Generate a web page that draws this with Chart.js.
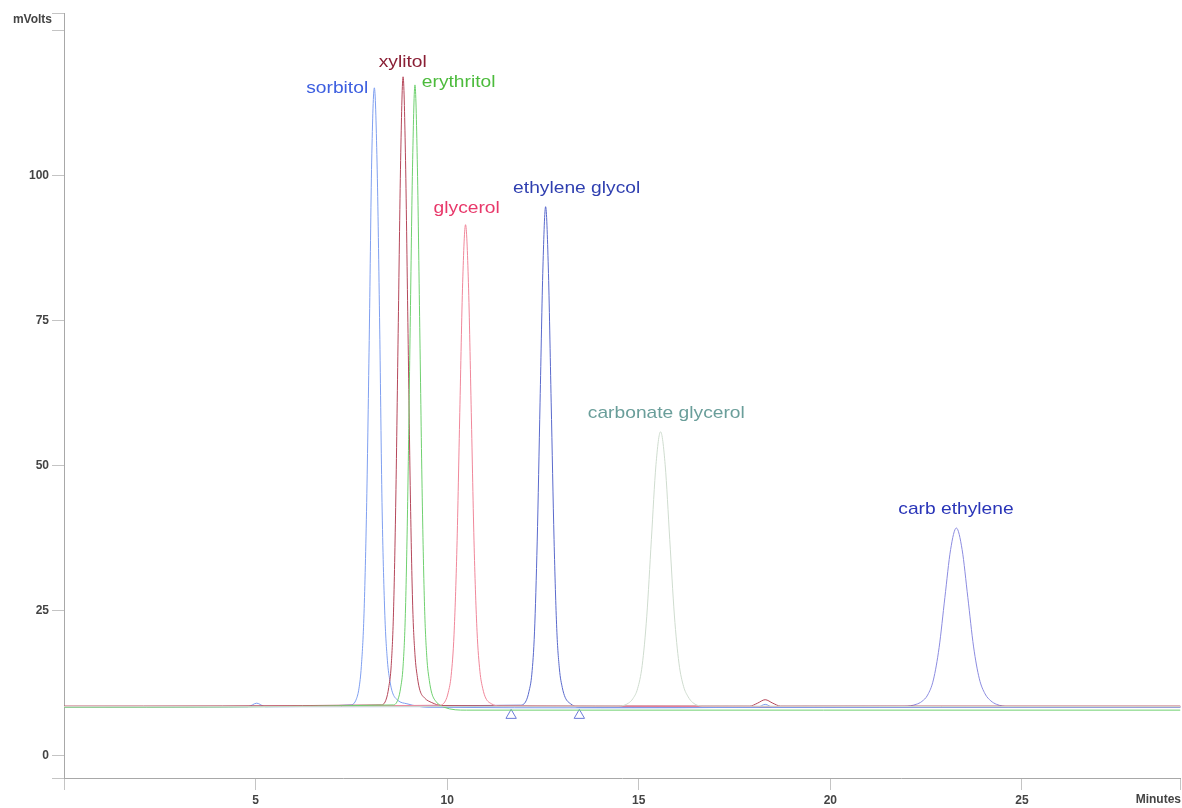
<!DOCTYPE html>
<html>
<head>
<meta charset="utf-8">
<script src="https://cdn.jsdelivr.net/npm/chart.js@4.4.1/dist/chart.umd.min.js"></script>
<style>
  html, body { margin: 0; padding: 0; background: #fff; overflow: hidden; }
  canvas { display: block; }
</style>
</head>
<body>
<canvas id="chart" width="1182" height="808"></canvas>
<script>
// axis ranges and ticks
const xMin = 0, xMax = 29.14
const yMin = -3.8, yMax = 128.1
const xTicks = [5, 10, 15, 20, 25]
const yTicks = [0, 25, 50, 75, 100]

// traces, minutes / mVolts
const sorbitolMin = [0, 4.8, 5.03, 5.25, 7.49, 7.63, 7.70, 7.76, 7.83, 7.90, 7.97, 8.03, 8.10, 8.17, 8.24, 8.30, 8.37, 8.44, 8.51, 8.57, 8.71, 8.95, 9.5, 14, 18.1, 18.3, 18.5, 29.14]
const sorbitolMv = [8.5, 8.5, 9.1, 8.5, 8.8, 9.8, 11.7, 15.4, 24.5, 43.7, 73.6, 102.4, 115.2, 102.4, 73.6, 43.7, 25, 16.5, 12.8, 11, 9.6, 9.0, 8.4, 8.3, 8.4, 8.9, 8.4, 8.4]

const xylitolMin = [0, 8.29, 8.41, 8.475, 8.54, 8.60, 8.66, 8.725, 8.79, 8.85, 8.91, 8.975, 9.04, 9.10, 9.16, 9.225, 9.29, 9.41, 9.6, 9.85, 17.9, 18.1, 18.3, 18.5, 18.7, 29.14]
const xylitolMv = [8.6, 8.8, 9.8, 11.8, 15.6, 24.8, 44.3, 74.7, 104.1, 117.1, 104.1, 74.7, 45, 26, 17.5, 13.5, 11.3, 10.0, 9.2, 8.7, 8.6, 9.1, 9.7, 9.1, 8.6, 8.6]

const erythritolMin = [0, 8.6, 8.72, 8.785, 8.85, 8.91, 8.97, 9.035, 9.10, 9.16, 9.22, 9.285, 9.35, 9.41, 9.47, 9.535, 9.60, 9.72, 9.92, 10.5, 29.14]
const erythritolMv = [8.4, 8.8, 9.8, 11.7, 15.5, 24.6, 43.9, 73.9, 102.8, 115.7, 102.8, 73.9, 44.5, 25.8, 17, 13, 10.8, 9.3, 8.4, 7.9, 7.9]

const glycerolMin = [0, 9.805, 9.955, 10.03, 10.105, 10.18, 10.255, 10.33, 10.405, 10.48, 10.555, 10.63, 10.705, 10.78, 10.855, 10.93, 11.005, 11.155, 11.38, 29.14]
const glycerolMv = [8.5, 8.75, 9.5, 11.0, 13.9, 21, 35.9, 59.2, 81.6, 91.6, 81.6, 59.2, 36, 21.5, 14.6, 11.6, 10, 9.0, 8.6, 8.5]

const ethyleneMin = [0, 11.92, 12.06, 12.135, 12.21, 12.28, 12.35, 12.425, 12.50, 12.57, 12.64, 12.715, 12.79, 12.86, 12.93, 13.005, 13.08, 13.22, 13.44, 29.14]
const ethyleneMv = [8.5, 8.75, 9.5, 11.1, 14.1, 21.4, 36.9, 61, 84.3, 94.7, 84.3, 61, 37.3, 22, 15, 11.8, 10.1, 9.0, 8.4, 8.4]

const carbGlyMin = [0, 14.49, 14.73, 14.85, 14.97, 15.09, 15.21, 15.33, 15.45, 15.57, 15.69, 15.81, 15.93, 16.05, 16.17, 16.29, 16.41, 16.65, 29.14]
const carbGlyMv = [8.5, 8.6, 9.1, 9.9, 11.6, 15.6, 24.1, 37.3, 50.2, 55.9, 50.2, 37.3, 24.3, 16, 12, 10.2, 9.2, 8.6, 8.5]

const carbEthMin = [0, 21.94, 22.24, 22.39, 22.54, 22.69, 22.84, 22.99, 23.14, 23.29, 23.44, 23.59, 23.74, 23.89, 24.04, 24.19, 24.34, 24.64, 29.14]
const carbEthMv = [8.5, 8.55, 8.9, 9.4, 10.5, 13.1, 18.7, 27.3, 35.6, 39.3, 35.6, 27.3, 18.8, 13.3, 10.7, 9.5, 8.9, 8.5, 8.5]

// integration marks
const markMin = [11.67, 13.45]
const markMv = [7.0, 7.0]

// peak names and where they sit
const peakNames = ['sorbitol', 'xylitol', 'erythritol', 'glycerol', 'ethylene glycol', 'carbonate glycerol', 'carb ethylene']
const labelMin = [7.13, 8.84, 10.3, 10.51, 13.38, 15.72, 23.28]
const labelMv = [114.3, 118.8, 115.4, 93.55, 97.1, 58.2, 41.7]

const labelColors = ['#3d5fe0', '#8a1f35', '#4cbb3c', '#e8386a', '#2f3fb0', '#6a9e9a', '#2a35b8']

const pts = (xs, ys) => xs.map((v, i) => ({x: v, y: ys[i]}))

const trace = (name, xs, ys, color) => ({
  label: name,
  data: pts(xs, ys),
  borderColor: color,
  borderWidth: 1,
  pointRadius: 0,
  fill: false,
  cubicInterpolationMode: 'monotone'
})

const peakLabels = {
  id: 'peakLabels',
  afterDatasetsDraw(chart) {
    const {ctx, scales: {x, y}} = chart
    ctx.save()
    ctx.font = '17px "Liberation Sans", Arial, sans-serif'
    ctx.textAlign = 'center'
    ctx.textBaseline = 'alphabetic'
    peakNames.forEach((name, i) => {
      ctx.save()
      ctx.translate(x.getPixelForValue(labelMin[i]), y.getPixelForValue(labelMv[i]))
      ctx.scale(1.13, 1)
      ctx.fillStyle = labelColors[i]
      ctx.fillText(name, 0, 0)
      ctx.restore()
    })
    ctx.font = 'bold 12px "Liberation Sans", Arial, sans-serif'
    ctx.fillStyle = '#444'
    ctx.textAlign = 'right'
    ctx.textBaseline = 'middle'
    ctx.fillText('mVolts', y.right - 12, y.top + 7)
    ctx.fillText('Minutes', Math.min(x.right + 1, 1181), x.top + 22)
    ctx.restore()
  }
}

const ctx = document.getElementById('chart')
new Chart(ctx, {
  type: 'line',
  data: {
    datasets: [
      trace('carbonate glycerol', carbGlyMin, carbGlyMv, '#cfdccf'),
      trace('erythritol', erythritolMin, erythritolMv, '#6fd06f'),
      trace('glycerol', glycerolMin, glycerolMv, '#f0879a'),
      trace('xylitol', xylitolMin, xylitolMv, '#b5475a'),
      trace('sorbitol', sorbitolMin, sorbitolMv, '#7f9ff0'),
      trace('carb ethylene', carbEthMin, carbEthMv, '#8c8ce0'),
      trace('ethylene glycol', ethyleneMin, ethyleneMv, '#5a6acc'),
      {
        type: 'scatter',
        label: 'marks',
        data: pts(markMin, markMv),
        showLine: false,
        pointStyle: 'triangle',
        pointRadius: 6,
        borderColor: '#6a7ad8',
        backgroundColor: '#ffffff',
        borderWidth: 1
      }
    ]
  },
  options: {
    responsive: false,
    animation: false,
    layout: {autoPadding: false, padding: {top: 13, right: 1.5, left: 0, bottom: 0}},
    plugins: {
      legend: {display: false},
      tooltip: {enabled: false}
    },
    scales: {
      x: {
        type: 'linear',
        min: xMin,
        max: xMax,
        afterBuildTicks: s => { s.ticks = [xMin, ...xTicks, xMax].map(v => ({value: v})) },
        afterFit: s => { s.height = 30; s.paddingLeft = 0; s.paddingRight = 0 },
        grid: {drawOnChartArea: false, tickLength: 12, color: '#c4c4c4'},
        border: {color: '#a8a8a8'},
        ticks: {
          padding: 3,
          maxRotation: 0,
          color: '#444',
          font: {family: '"Liberation Sans", Arial, sans-serif', size: 12, weight: 'bold'},
          callback: v => xTicks.includes(v) ? String(v) : ''
        }
      },
      y: {
        min: yMin,
        max: yMax,
        afterBuildTicks: s => { s.ticks = [yMin, ...yTicks, 125, yMax].map(v => ({value: v})) },
        afterFit: s => { s.width = 64; s.paddingTop = 0; s.paddingBottom = 0 },
        grid: {drawOnChartArea: false, tickLength: 12, color: '#c4c4c4'},
        border: {color: '#a8a8a8'},
        ticks: {
          padding: 3,
          color: '#444',
          font: {family: '"Liberation Sans", Arial, sans-serif', size: 12, weight: 'bold'},
          callback: v => yTicks.includes(v) ? String(v) : ''
        }
      }
    }
  },
  plugins: [peakLabels]
})
</script>
</body>
</html>
